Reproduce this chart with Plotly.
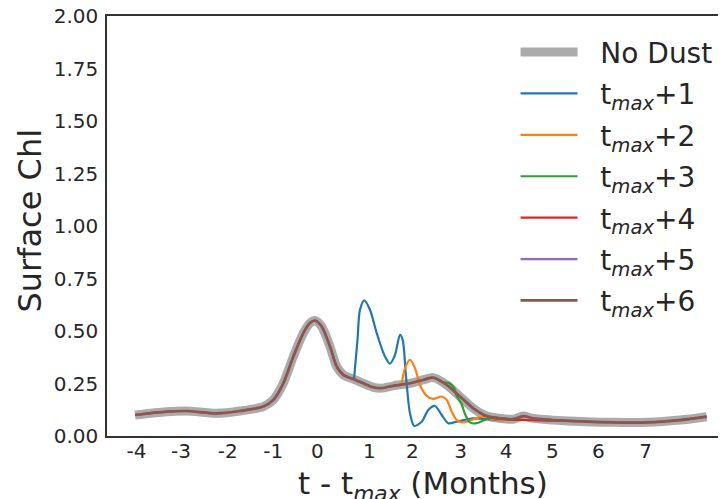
import plotly.graph_objects as go

# x in months relative to t_max, y = surface Chl
x_nodust = [-3.937, -3.253, -2.821, -2.173, -1.670, -1.166, -0.950, -0.734, -0.518, -0.302,
            -0.158, -0.050, 0.095, 0.274, 0.419, 0.562, 0.778, 0.994, 1.210, 1.391,
            1.641, 2.002, 2.300, 2.505, 2.795, 3.082, 3.369, 3.659, 3.946, 4.233,
            4.449, 4.665, 5.313, 6.393, 7.114, 7.833, 8.410]
y_nodust = [0.100, 0.116, 0.119, 0.108, 0.119, 0.140, 0.172, 0.251, 0.378, 0.490,
            0.538, 0.550, 0.521, 0.426, 0.331, 0.291, 0.271, 0.251, 0.232, 0.228,
            0.239, 0.251, 0.268, 0.278, 0.243, 0.188, 0.132, 0.095, 0.084, 0.080,
            0.095, 0.084, 0.073, 0.065, 0.065, 0.076, 0.092]

x_t1 = [0.793, 0.868, 0.922, 1.015, 1.138, 1.283, 1.462, 1.570, 1.678, 1.786,
        1.844, 1.916, 2.002, 2.095, 2.255, 2.397, 2.542, 2.687, 2.829, 3.011,
        3.369, 3.946, 4.378]
y_t1 = [0.272, 0.458, 0.601, 0.646, 0.601, 0.490, 0.378, 0.344, 0.386, 0.482,
        0.458, 0.283, 0.108, 0.048, 0.068, 0.124, 0.143, 0.100, 0.061, 0.068,
        0.084, 0.076, 0.085]

x_t2 = [1.823, 1.894, 2.002, 2.110, 2.218, 2.363, 2.505, 2.687, 2.795, 2.903,
        3.011, 3.153, 3.335, 3.551, 3.730, 3.946, 4.162, 4.378]
y_t2 = [0.248, 0.323, 0.363, 0.323, 0.243, 0.191, 0.177, 0.188, 0.172, 0.116,
        0.076, 0.065, 0.076, 0.092, 0.084, 0.076, 0.078, 0.085]

x_t3 = [2.737, 2.845, 2.953, 3.011, 3.119, 3.190, 3.298, 3.442, 3.584, 3.765,
        3.946, 4.162]
y_t3 = [0.254, 0.253, 0.230, 0.190, 0.150, 0.105, 0.065, 0.061, 0.074, 0.090,
        0.085, 0.080]

x_t4 = [3.514, 3.622, 3.838, 4.054, 4.270, 4.486, 4.810, 5.134, 5.313]
y_t4 = [0.113, 0.098, 0.085, 0.080, 0.077, 0.076, 0.074, 0.073, 0.073]

x_t5 = list(x_nodust)
y_t5 = list(y_nodust)
x_t6 = list(x_nodust)
y_t6 = list(y_nodust)

tick_vals = [-3.905, -2.944, -1.935, -0.950, 0.0, 1.123, 2.052, 3.097, 4.076, 5.076, 6.069, 7.093]
tick_text = ["-4", "-3", "-2", "-1", "0", "1", "2", "3", "4", "5", "6", "7"]
y_ticks = [0, 0.25, 0.5, 0.75, 1.0, 1.25, 1.5, 1.75, 2.0]

SP = "\u00a0\u00a0"
series = [
    (SP + "t<sub><i>max</i></sub>+1", x_t1, y_t1, "#1f77b4"),
    (SP + "t<sub><i>max</i></sub>+2", x_t2, y_t2, "#ff7f0e"),
    (SP + "t<sub><i>max</i></sub>+3", x_t3, y_t3, "#2ca02c"),
    (SP + "t<sub><i>max</i></sub>+4", x_t4, y_t4, "#d62728"),
    (SP + "t<sub><i>max</i></sub>+5", x_t5, y_t5, "#9467bd"),
    (SP + "t<sub><i>max</i></sub>+6", x_t6, y_t6, "#8c564b"),
]

FONT = "DejaVu Sans"
TXT = "#262626"

fig = go.Figure()
fig.add_trace(go.Scatter(x=x_nodust, y=y_nodust, mode="lines", name=SP + "No Dust",
                         legendgroup="g0",
                         line=dict(color="#ababab", width=9, shape="spline", smoothing=0.8)))
for i, (name, xs, ys, col) in enumerate(series):
    fig.add_trace(go.Scatter(x=xs, y=ys, mode="lines", name=name, legendgroup="g%d" % (i + 1),
                             line=dict(color=col, width=2.2 if col != "#8c564b" else 2.7,
                                       shape="spline", smoothing=0.8)))

fig.update_layout(
    width=718, height=491,
    margin=dict(l=99, r=0, t=8, b=63, autoexpand=False),
    paper_bgcolor="white", plot_bgcolor="white",
    font=dict(family=FONT, color=TXT, size=20),
    showlegend=True,
    legend=dict(x=0.66, y=0.973, xanchor="left", yanchor="top",
                font=dict(size=28, family=FONT, color=TXT),
                bgcolor="rgba(0,0,0,0)", itemwidth=57, tracegroupgap=2),
    hovermode=False,
    annotations=[
        dict(text="t - t<sub><i>max</i></sub> (Months)", xref="paper", yref="paper",
             x=0.5105, y=-0.064, xanchor="center", yanchor="top", showarrow=False,
             font=dict(size=31, family=FONT, color=TXT)),
        dict(text="Surface Chl", xref="paper", yref="paper", x=-0.1244, y=0.513,
             xanchor="center", yanchor="middle", textangle=-90, showarrow=False,
             font=dict(size=32, family=FONT, color=TXT)),
    ],
)
fig.update_xaxes(range=[-4.542, 8.827], tickvals=tick_vals, ticktext=tick_text,
                 showgrid=False, zeroline=False, showline=True, linecolor="#333333",
                 linewidth=1.6, mirror=True, ticks="", ticklabelstandoff=-4,
                 ticklabeloverflow="allow",
                 tickfont_size=20, tickfont_family=FONT, tickfont_color=TXT)
fig.update_yaxes(range=[0, 2.0], tickvals=y_ticks, tickformat=".2f",
                 showgrid=False, zeroline=False, showline=True, linecolor="#333333",
                 linewidth=1.6, mirror=False, ticks="", ticklabelstandoff=3,
                 ticklabeloverflow="allow",
                 tickfont_size=20, tickfont_family=FONT, tickfont_color=TXT)

fig.write_html("out.html", config={"displayModeBar": False})
